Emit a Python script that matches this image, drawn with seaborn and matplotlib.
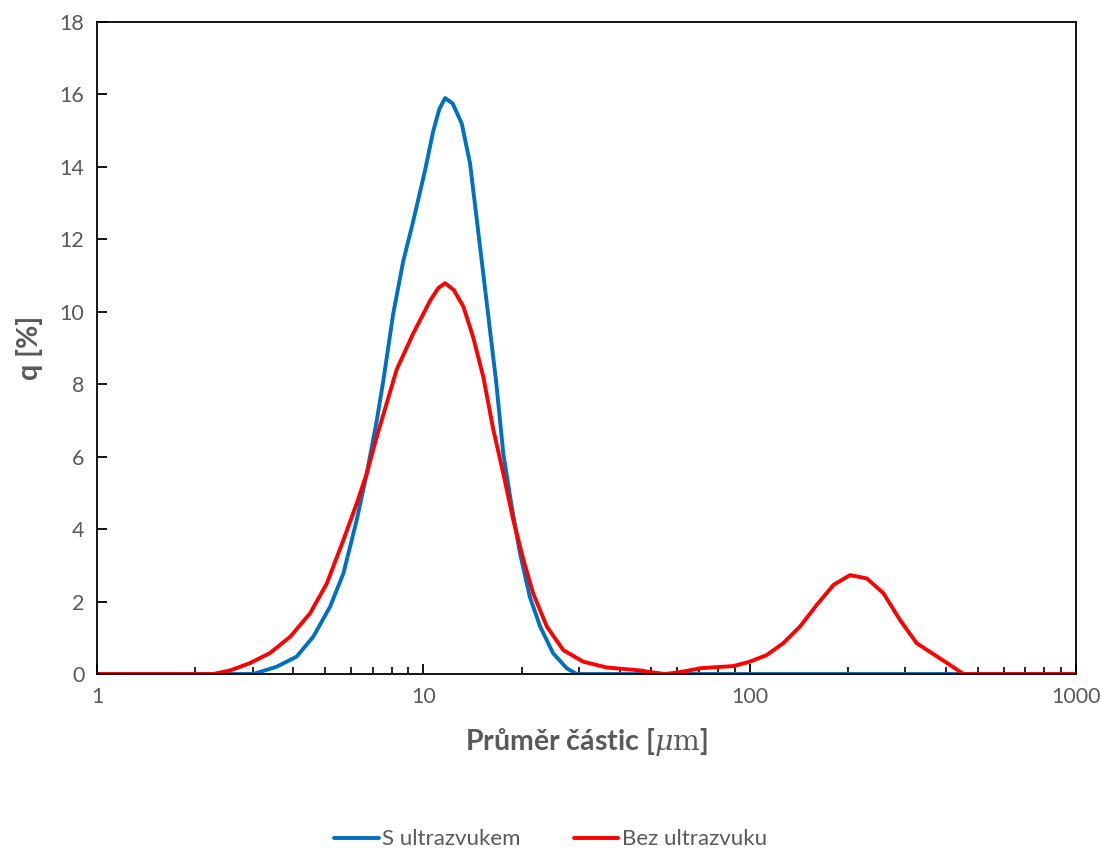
import numpy as np
import pandas as pd
import seaborn as sns
import matplotlib.pyplot as plt
from matplotlib.lines import Line2D
from matplotlib.ticker import FixedLocator, LogLocator, NullFormatter

# S ultrazvukem
x_s = [1, 2, 2.7, 3.01, 3.55, 4.09, 4.60, 5.18, 5.69, 6.25, 6.71, 7.20, 7.54, 8.09,
       8.68, 9.31, 10.12, 10.73, 11.2, 11.66, 12.3, 13.11, 13.9, 14.92, 16.0, 16.7,
       17.58, 18.66, 19.78, 21.2, 22.8, 25.0, 27.5, 29.5, 31, 50, 100, 300, 1000]
q_s = [0, 0, 0, 0, 0.2, 0.48, 1.03, 1.86, 2.78, 4.25, 5.54, 7.0, 8.1, 9.96,
       11.4, 12.5, 13.9, 15.0, 15.6, 15.9, 15.75, 15.2, 14.1, 11.8, 9.5, 8.1,
       6.09, 4.62, 3.33, 2.13, 1.31, 0.57, 0.16, 0, 0, 0, 0, 0, 0]

# Bez ultrazvuku
x_b = [1, 2, 2.27, 2.56, 2.94, 3.39, 3.91, 4.50, 5.06, 5.69, 6.25, 6.71, 7.20, 7.72,
       8.28, 9.31, 10.48, 11.1, 11.66, 12.4, 13.27, 14.2, 15.27, 16.39, 17.58, 18.86,
       20.27, 21.7, 23.9, 26.85, 30.9, 36.5, 46.1, 50, 55, 61, 68, 70.5, 89.1, 100,
       112.6, 126.7, 142.6, 160.6, 180.6, 203, 228.5, 257, 289, 325, 383, 411, 452,
       600, 1000]
q_b = [0, 0, 0, 0.1, 0.3, 0.58, 1.03, 1.68, 2.5, 3.7, 4.71, 5.54, 6.55, 7.47,
       8.4, 9.4, 10.3, 10.65, 10.79, 10.6, 10.14, 9.31, 8.2, 6.74, 5.54, 4.25,
       3.15, 2.23, 1.31, 0.66, 0.34, 0.18, 0.1, 0.05, 0, 0.05, 0.13, 0.16, 0.22, 0.34,
       0.52, 0.85, 1.31, 1.91, 2.46, 2.73, 2.64, 2.23, 1.49, 0.85, 0.43, 0.25, 0,
       0, 0]

series_names = ["S ultrazvukem", "Bez ultrazvuku"]
colors = ["#0070C0", "#FF0000"]

df = pd.concat([
    pd.DataFrame({"d": x_s, "q": q_s, "serie": series_names[0]}),
    pd.DataFrame({"d": x_b, "q": q_b, "serie": series_names[1]}),
])

sns.set_style("white")
plt.rcParams["font.family"] = ["Lato", "DejaVu Sans"]
plt.rcParams["mathtext.fontset"] = "dejavuserif"

fig = plt.figure(figsize=(11.01, 8.49), dpi=100)
ax = fig.add_axes([0.0881, 0.2061, 0.8892, 0.7680])

sns.lineplot(data=df, x="d", y="q", hue="serie", palette=colors, sort=False,
             linewidth=2.8, legend=False, ax=ax)

ax.set_xscale("log")
ax.set_xlim(1, 1000)
ax.set_ylim(0, 18)
ax.xaxis.set_major_locator(FixedLocator([1, 10, 100, 1000]))
ax.set_xticklabels(["1", "10", "100", "1000"])
ax.xaxis.set_minor_locator(LogLocator(base=10, subs=np.arange(2, 10)))
ax.xaxis.set_minor_formatter(NullFormatter())
ax.set_yticks(np.arange(0, 19, 2))

for s in ax.spines.values():
    s.set_color("black")
    s.set_linewidth(1.3)

ax.tick_params(axis="both", which="major", direction="in", length=7, width=1.3,
               labelsize=15.5, labelcolor="#595959", color="black", pad=9,
               bottom=True, left=True, top=False, right=False)
ax.tick_params(axis="x", which="minor", direction="in", length=5, width=1.2,
               color="black", bottom=True, top=False)

ax.set_xlabel(r"Průměr částic [$\mu\mathrm{m}$]", fontsize=20.5, fontweight="bold",
              color="#595959", labelpad=14)
ax.set_ylabel("q [%]", fontsize=20.5, fontweight="bold", color="#595959", labelpad=12)

handles = [Line2D([0], [0], color=c, linewidth=2.8) for c in colors]
fig.legend(handles, series_names, loc="lower center", bbox_to_anchor=(0.5, -0.024),
           ncol=2, frameon=False, fontsize=16, handlelength=2.0, columnspacing=2.4,
           handletextpad=0.15, labelcolor="#595959")

fig.savefig("out.png", dpi=100)
